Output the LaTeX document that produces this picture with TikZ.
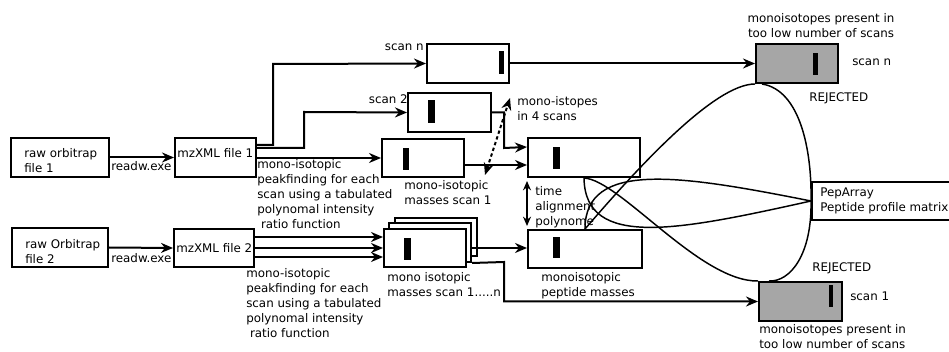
\documentclass[tikz,border=0pt]{standalone}
\usepackage{fontspec}
\setmainfont{DejaVu Sans}
\usetikzlibrary{arrows.meta,fit,calc}
\tikzset{
  box/.style={draw, line width=1.5pt, fill=white, inner sep=0pt},
  greybox/.style={box, fill=black!35},
  txt/.style={font=\fontsize{8.9}{11.25}\selectfont, inner sep=0pt, align=left, anchor=north west},
  arr/.style={line width=1.5pt, -{Stealth[length=9pt,width=7.5pt]}},
  darr/.style={line width=1.5pt, {Stealth[length=7pt,width=6pt]}-{Stealth[length=7pt,width=6pt]}},
  dotarr/.style={line width=1.5pt, dash pattern=on 2.5pt off 2pt, {Stealth[length=9pt,width=7.5pt]}-{Stealth[length=9pt,width=7.5pt]}},
  crv/.style={line width=1.1pt},
}
\begin{document}
\begin{tikzpicture}[x=0.75pt,y=-0.75pt]
\clip (0,0) rectangle (949,352);
% boxes
\node[box, fit={(11,138) (109,177)}] (raw1) {};
\node[box, fit={(175,138) (256,177)}] (mz1) {};
\node[box, fit={(12,228) (108,267)}] (raw2) {};
\node[box, fit={(174,229) (254,267)}] (mz2) {};
\node[box, fit={(427,44) (509,83)}] (scann) {};
\node[box, fit={(408,93) (491,132)}] (scan2) {};
\node[box, fit={(382,139) (464,177)}] (b1) {};
\node[box, fit={(528,138) (640,177)}] (top) {};
\node[box, fit={(528,230) (642,268)}] (bot) {};
\node[box, fit={(395,218) (477,256)}] (back) {};
\node[box, fit={(389,223) (471,262)}] (mid) {};
\node[box, fit={(384,229) (466,267)}] (front) {};
\node[greybox, fit={(756,44) (838,83)}] (gtop) {};
\node[greybox, fit={(759,282) (842,321)}] (gbot) {};
\node[box, fit={(812,182) (965,220)}] (pep) {};
% bars
\fill (499,51) rectangle (504,74);
\fill (428,100) rectangle (435,123);
\fill (403,148) rectangle (409,170);
\fill (553,147) rectangle (560,169);
\fill (553,237) rectangle (560,258);
\fill (404,238) rectangle (411,260);
\fill (813,53) rectangle (818,75);
\fill (829,285) rectangle (833,307);
% texts
\node[txt] (raw1t) at (24,148) {raw orbitrap\\file 1};
\node[txt] (rd1) at (111,161) {readw.exe};
\node[txt] (mz1t) at (177,148) {mzXML file 1};
\node[txt] (pk1) at (257,159) {mono-isotopic\\peakfinding for each\\scan using a tabulated\\polynomal intensity\\ \ ratio function};
\node[txt, anchor=north east] (scannl) at (424,44) {scan n};
\node[txt, anchor=north east] (scan2l) at (408,94) {scan 2};
\node[txt] (m1l) at (404,180) {mono-isotopic\\masses scan 1};
\node[txt] (m4l) at (517,96) {mono-istopes\\in 4 scans};
\node[txt] (tal) at (535,186) {time\\alignment\\polynome};
\node[txt] (raw2t) at (25,239) {raw Orbitrap\\file 2};
\node[txt] (rd2) at (111,253) {readw.exe};
\node[txt] (mz2t) at (176,243) {mzXML file 2};
\node[txt] (pk2) at (246,268) {mono-isotopic\\peakfinding for each\\scan using a tabulated\\polynomal intensity\\ \ ratio function};
\node[txt] (mnl) at (387,272) {mono isotopic\\masses scan 1.....n};
\node[txt] (mpl) at (541,272) {monoisotopic\\peptide masses};
\node[txt, align=center, anchor=north] (gtl) at (821,13) {monoisotopes present in\\too low number of scans};
\node[txt] (scn) at (852,59) {scan n};
\node[txt] (rej1) at (809,92) {REJECTED};
\node[txt] (pept) at (820,188) {PepArray\\Peptide profile matrix};
\node[txt] (rej2) at (812,262) {REJECTED};
\node[txt] (sc1) at (850,292) {scan 1};
\node[txt] (gbl) at (759,324) {monoisotopes present in\\too low number of scans};
% connectors
\draw[arr] (raw1.east) -- (mz1.west);
\draw[arr] (raw2.east) -- (mz2.west);
\draw[arr] ($(mz1.north east)+(0,8)$) -| (273,64) -- (scann.west);
\draw[arr] ($(mz1.north east)+(0,11)$) -| (304,112) -- (scan2.west);
\draw[arr] ($(mz1.north east)+(0,21)$) -- ($(b1.north west)+(0,20)$);
\draw[arr] (scan2.east) -| (504,148) -- ($(top.north west)+(0,10)$);
\draw[arr] ($(b1.north east)+(0,27)$) -- ($(top.north west)+(0,28)$);
\draw[arr] (scann.east) -- (gtop.west);
\draw[arr] ($(mz2.north east)+(0,9)$) -- ($(front.north west)+(0,9)$);
\draw[arr] ($(mz2.north east)+(0,20)$) -- ($(front.north west)+(0,20)$);
\draw[arr] ($(mz2.north east)+(0,29)$) -- ($(front.north west)+(0,29)$);
\draw[arr] ($(mid.north east)+(0,26)$) -- ($(bot.north west)+(0,19)$);
\draw[arr] (mid.south east) -- (504,262) |- (gbot.west);
\draw[darr] ($(top.south west)+(0,3)$) -- ($(bot.north west)+(0,-3)$);
\coordinate (d1) at (485,175);
\coordinate (d2) at (510,98);
\draw[dotarr] (d1) -- (d2);
% curves
\draw[crv] (gtop.south west) .. controls (715,84) and (640,165) .. (bot.north);
\draw[crv] ($(gtop.south west)+(7,0)$) .. controls (800,90) and (812,150) .. (pep.west)
           .. controls (812,255) and (790,282) .. ($(gbot.north west)+(11,0)$);
\draw[crv] (top.south) .. controls (620,180) and (700,282) .. (gbot.north west);
\draw[crv] (top.south) .. controls (585,250) and (680,230) .. (pep.west);
\draw[crv] (bot.north) .. controls (585,160) and (680,175) .. (pep.west);
\end{tikzpicture}
\end{document}
